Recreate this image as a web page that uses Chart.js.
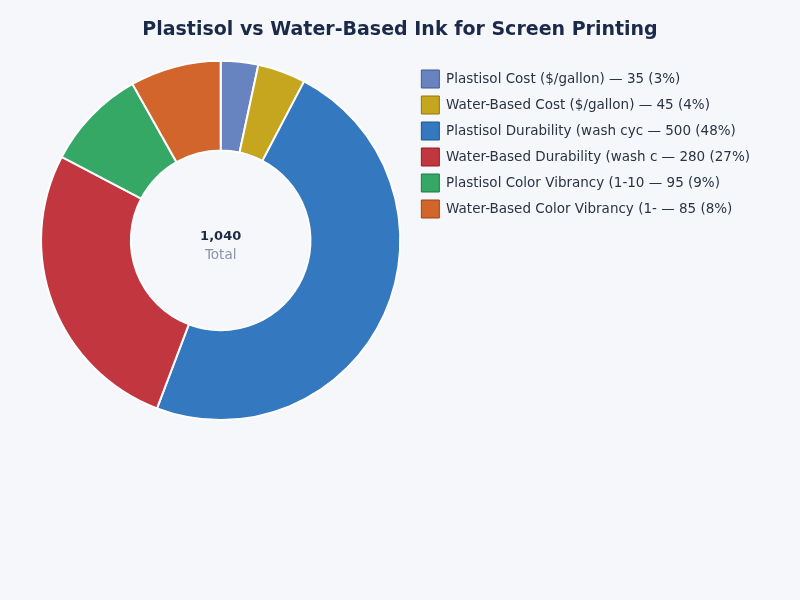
<!DOCTYPE html>
<html>
<head>
<meta charset="utf-8">
<script src="https://cdn.jsdelivr.net/npm/chart.js@4/dist/chart.umd.min.js"></script>
<style>
  html, body { margin: 0; padding: 0; background: #f5f7fb; }
  #wrap { width: 800px; height: 600px; }
</style>
</head>
<body>
<div id="wrap"><canvas id="inkChart" width="800" height="600"></canvas></div>
<script>
// chart values
var categories = [
  "Plastisol Cost ($/gallon)",
  "Water-Based Cost ($/gallon)",
  "Plastisol Durability (wash cycles)",
  "Water-Based Durability (wash cycles)",
  "Plastisol Color Vibrancy (1-100)",
  "Water-Based Color Vibrancy (1-100)"
];
var values = [35, 45, 500, 280, 95, 85];
var sliceColors = ["#6783c0", "#c6a61f", "#3478c0", "#c2373f", "#35a866", "#d2652c"];
var legendBorders = ["#3f5a94", "#8f7610", "#1f5490", "#8c1f26", "#1f7845", "#9a4418"];

var total = values.reduce(function (a, b) { return a + b; }, 0);

Chart.defaults.font.family = "DejaVu Sans";

function pct(v) {
  return Math.round((v / total) * 100);
}

// draws the total in the hole
var centerText = {
  id: "centerText",
  afterLayout: function (chart) {
    // keep the title centred on the whole canvas, not the padded box
    var t = chart.titleBlock;
    if (t) {
      t.left = 0;
      t.right = chart.width;
      t.width = chart.width;
    }
  },
  afterDatasetsDraw: function (chart) {
    var meta = chart.getDatasetMeta(0);
    if (!meta.data.length) return;
    var x = meta.data[0].x, y = meta.data[0].y;
    var ctx = chart.ctx;
    ctx.save();
    ctx.textAlign = "center";
    ctx.textBaseline = "middle";
    ctx.fillStyle = "#1e2a44";
    ctx.font = "bold 13px DejaVu Sans";
    ctx.fillText(total.toLocaleString("en-US"), x, y - 4);
    ctx.fillStyle = "#8a94a6";
    ctx.font = "13.5px DejaVu Sans";
    ctx.fillText("Total", x, y + 15);
    ctx.restore();
  }
};

new Chart(document.getElementById("inkChart").getContext("2d"), {
  type: "doughnut",
  data: {
    labels: categories,
    datasets: [{
      data: values,
      backgroundColor: sliceColors,
      borderColor: "#ffffff",
      borderWidth: 2,
      hoverOffset: 0
    }]
  },
  options: {
    responsive: false,
    animation: false,
    cutout: "50%",
    layout: { padding: { left: 28, right: 40, top: 9, bottom: 179 } },
    plugins: {
      title: {
        display: true,
        text: "Plastisol vs Water-Based Ink for Screen Printing",
        color: "#1b2a4a",
        font: { size: 19, weight: "bold" },
        padding: { top: 10, bottom: 18 }
      },
      legend: {
        position: "right",
        align: "start",
        title: { display: true, text: "", font: { size: 10 }, padding: { top: 41, bottom: 0 } },
        labels: {
          color: "#2a3344",
          font: { size: 13.5 },
          boxWidth: 18,
          boxHeight: 18,
          padding: 8,
          generateLabels: function (chart) {
            return categories.map(function (c, i) {
              return {
                text: c.slice(0, 30) + " \u2014 " + values[i] + " (" + pct(values[i]) + "%)",
                fillStyle: sliceColors[i],
                strokeStyle: legendBorders[i],
                fontColor: "#2a3344",
                lineWidth: 1,
                index: i,
                hidden: false
              };
            });
          }
        }
      },
      tooltip: { enabled: false }
    }
  },
  plugins: [centerText]
});
</script>
</body>
</html>
